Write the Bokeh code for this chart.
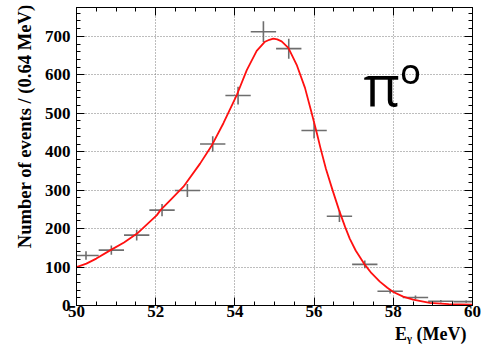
from bokeh.plotting import figure
from bokeh.models import (LinearAxis, SingleIntervalTicker, Range1d, Label, Title,
                          ColumnDataSource, CustomJSTickFormatter)
from bokeh.embed import file_html
from bokeh.resources import INLINE

# ---- data ----
bin_centers = [50.24, 50.88, 51.52, 52.16, 52.80, 53.44, 54.08, 54.72,
               55.36, 56.00, 56.64, 57.28, 57.92, 58.56, 59.20, 59.84]
counts = [130, 144, 183, 248, 299, 420, 546, 712,
          668, 455, 232, 107, 37, 21, 11, 10]
count_errors = [11, 12, 14, 16, 17, 20, 23, 27,
                26, 21, 15, 10, 6, 5, 3, 3]
bin_half_width = 0.32

fit_x = [50.0, 50.25, 50.5, 50.86, 51.2, 51.53, 52.03, 52.12, 52.37, 52.7,
         53.12, 53.42, 53.71, 54.05, 54.3, 54.55, 54.76, 54.87, 54.97, 55.07,
         55.18, 55.35, 55.56, 55.77, 55.94, 56.07, 56.16, 56.3, 56.46, 56.63,
         56.78, 56.9, 57.05, 57.26, 57.45, 57.66, 57.85, 58.0, 58.25, 58.5,
         58.92, 59.4, 60.0]
fit_y = [100, 109, 122, 144, 164, 187, 235, 248, 274, 309,
         369, 417, 474, 548, 612, 662, 686, 691, 694, 692,
         687, 670, 626, 566, 500, 448, 410, 355, 302, 248,
         205, 174, 143, 109, 84, 62, 46, 35, 23, 15,
         7, 3.5, 2]

x_label = "E\u1d67 (MeV)"
y_label = "Number of events / (0.64 MeV)"
particle_label = "\u03c0\u00ba"

# ---- figure ----
p = figure(width=481, height=345, x_range=Range1d(50, 60), y_range=Range1d(0, 775),
           output_backend="svg", toolbar_location=None,
           min_border_left=76, min_border_right=9, min_border_top=7, min_border_bottom=40)
p.background_fill_color = "white"
p.border_fill_color = "white"
p.outline_line_color = "black"
p.outline_line_width = 1

serif = "Liberation Serif"

def style_axis(ax, labels=True):
    ax.axis_line_color = "black"
    ax.major_tick_line_color = "black"
    ax.minor_tick_line_color = "black"
    ax.major_tick_in = 8
    ax.major_tick_out = 0
    ax.minor_tick_in = 4
    ax.minor_tick_out = 0
    if labels:
        ax.major_label_text_font = serif
        ax.major_label_text_font_style = "bold"
        ax.major_label_text_font_size = "17px"
        ax.major_label_text_color = "black"
    else:
        ax.formatter = CustomJSTickFormatter(code="return ''")
        ax.major_label_text_font_size = "0px"
        ax.major_label_standoff = 0

p.xaxis.ticker = SingleIntervalTicker(interval=2, num_minor_ticks=4)
p.yaxis.ticker = SingleIntervalTicker(interval=100, num_minor_ticks=5)
style_axis(p.xaxis[0])
style_axis(p.yaxis[0])
p.xaxis.major_label_standoff = 0
p.yaxis.major_label_standoff = 6

right_ax = LinearAxis(ticker=SingleIntervalTicker(interval=100, num_minor_ticks=5))
style_axis(right_ax, labels=False)
p.add_layout(right_ax, "right")
top_ax = LinearAxis(ticker=SingleIntervalTicker(interval=2, num_minor_ticks=4))
style_axis(top_ax, labels=False)
p.add_layout(top_ax, "above")

# axis titles as side titles (aligned to the frame ends like the reference)
p.add_layout(Title(text=y_label, align="right", text_font=serif, text_font_style="bold",
                   text_font_size="18.6px", text_color="black", standoff=14, offset=-3), "left")
p.add_layout(Title(text=x_label, align="right", text_font=serif, text_font_style="bold",
                   text_font_size="18px", text_color="black", standoff=4, offset=6), "below")

for g in (p.xgrid[0], p.ygrid[0]):
    g.grid_line_color = "#7a7a7a"
    g.grid_line_dash = "1 2"
    g.grid_line_width = 1

# ---- data crosses ----
src = ColumnDataSource(dict(
    x=bin_centers,
    y=counts,
    x0=[c - bin_half_width for c in bin_centers],
    x1=[c + bin_half_width for c in bin_centers],
    y0=[n - e for n, e in zip(counts, count_errors)],
    y1=[n + e for n, e in zip(counts, count_errors)],
))
p.segment(x0="x0", x1="x1", y0="y", y1="y", source=src, line_color="#6e6e6e", line_width=1.6)
p.segment(x0="x", x1="x", y0="y0", y1="y1", source=src, line_color="#6e6e6e", line_width=1.6)

# ---- fit curve ----
p.line(fit_x, fit_y, line_color="#ff1010", line_width=1.8, line_join="round")

# ---- particle label ----
p.add_layout(Label(x=57.25, y=575, text=particle_label, text_font="Open Sans",
                   text_font_size="56px", text_color="black",
                   text_align="left", text_baseline="alphabetic"))

open("out.html", "w").write(file_html(p, INLINE))
